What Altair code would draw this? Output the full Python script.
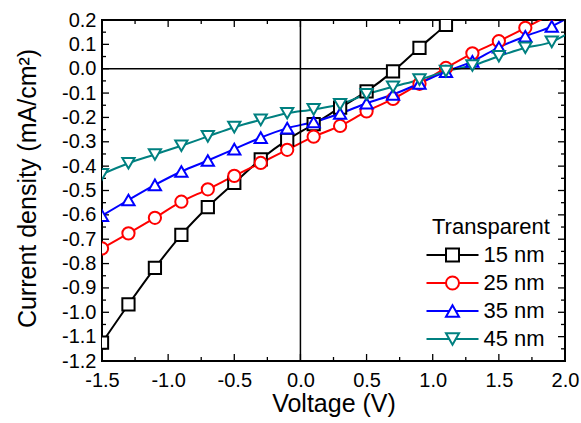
import altair as alt
import pandas as pd

FONT = "Liberation Sans"

# Bias sweep where symbols are drawn (V)
voltage = [-1.5, -1.3, -1.1, -0.9, -0.7, -0.5, -0.3, -0.1, 0.1, 0.3,
           0.5, 0.7, 0.9, 1.1, 1.3, 1.5, 1.7, 1.9]

# Current density (mA/cm^2) for each transparent-electrode thickness
j_15nm = [-1.125, -0.968, -0.818, -0.682, -0.568, -0.469, -0.372, -0.292, -0.228,
          -0.160, -0.093, -0.011, 0.086, 0.180, 0.280]
j_25nm = [-0.738, -0.676, -0.612, -0.546, -0.495, -0.440, -0.387, -0.333, -0.279,
          -0.235, -0.175, -0.124, -0.062, 0.003, 0.063, 0.113, 0.168, 0.225]
j_35nm = [-0.603, -0.539, -0.477, -0.422, -0.377, -0.330, -0.283, -0.244, -0.219,
          -0.184, -0.142, -0.106, -0.060, -0.012, 0.030, 0.088, 0.133, 0.174]
j_45nm = [-0.433, -0.388, -0.352, -0.316, -0.278, -0.240, -0.210, -0.183, -0.167,
          -0.146, -0.105, -0.074, -0.045, -0.010, 0.013, 0.051, 0.086, 0.110]

# last sample of each sweep (no symbol there)
v_end = 2.0
j_end = {"25 nm": 0.255, "35 nm": 0.203, "45 nm": 0.138}

series = ["15 nm", "25 nm", "35 nm", "45 nm"]
colors = ["#000000", "#ff0000", "#0000ff", "#008080"]
shapes = ["square", "circle", "triangle-up", "triangle-down"]

# legend glyphs: a line segment with the series symbol in the middle
legend_paths = [
    "M-4,0H-1M1,0H4M-1,-1H1V1H-1Z",
    "M-4,0H-1M1,0H4M1,0A1,1,0,1,1,-1,0A1,1,0,1,1,1,0Z",
    "M-4,0H-0.5M0.5,0H4M0,-0.866L-1,0.866L1,0.866Z",
    "M-4,0H-0.5M0.5,0H4M0,0.866L-1,-0.866L1,-0.866Z",
]

# axis ticks
x_major = [-1.5, -1.0, -0.5, 0.0, 0.5, 1.0, 1.5, 2.0]
x_minor = [-1.25, -0.75, -0.25, 0.25, 0.75, 1.25, 1.75]
y_major = [0.2, 0.1, 0.0, -0.1, -0.2, -0.3, -0.4, -0.5, -0.6, -0.7, -0.8, -0.9,
           -1.0, -1.1, -1.2]
y_minor = [0.15, 0.05, -0.05, -0.15, -0.25, -0.35, -0.45, -0.55, -0.65, -0.75,
           -0.85, -0.95, -1.05, -1.15]

rows = []
for name, vals in zip(series, [j_15nm, j_25nm, j_35nm, j_45nm]):
    for v, j in zip(voltage, vals):
        rows.append({"V": v, "J": j, "series": name, "sym": True})
    if name in j_end:
        rows.append({"V": v_end, "J": j_end[name], "series": name, "sym": False})
df = pd.DataFrame(rows)

W, H = 463, 341
xscale = alt.Scale(domain=[-1.5, 2.0], nice=False, zero=False)
yscale = alt.Scale(domain=[-1.2, 0.2], nice=False, zero=False)

# plain hyphen for negative tick labels
LABEL_EXPR = "(datum.value < -0.001 ? '-' : '') + format(abs(datum.value), '.1f')"

x_axis = alt.Axis(values=x_major, labelExpr=LABEL_EXPR, ticks=False, tickSize=0,
                  domain=False, grid=False, labelFlush=False, labelOverlap=False,
                  labelFont=FONT, labelFontSize=20, labelColor="black",
                  labelPadding=9, titleFont=FONT, titleFontSize=25,
                  titleFontWeight="normal", titleColor="black",
                  titleBaseline="alphabetic", titleY=50)
y_axis = alt.Axis(values=y_major, labelExpr=LABEL_EXPR, ticks=False, tickSize=0,
                  domain=False, grid=False, labelFlush=False, labelOverlap=False,
                  labelFont=FONT, labelFontSize=20, labelColor="black", labelPadding=6,
                  titleFont=FONT, titleFontSize=25, titleFontWeight="normal",
                  titleColor="black", titleAngle=270, titleAlign="center",
                  titleBaseline="middle", titleX=-75, titleY=168)
X_TITLE = "Voltage (V)"
Y_TITLE = "Current density (mA/cm²)"

legend = alt.Legend(
    title="Transparent", orient="none", legendX=330, legendY=197,
    titleFont=FONT, titleFontSize=22, titleFontWeight="normal", titleColor="black",
    labelFont=FONT, labelFontSize=22, labelColor="black", labelLimit=300,
    symbolSize=169, symbolStrokeWidth=2, symbolOffset=9.5, labelOffset=20,
    symbolFillColor="white", rowPadding=6, titlePadding=5, padding=0,
)

stroke = alt.Stroke("series:N", scale=alt.Scale(domain=series, range=colors),
                    legend=legend)


def xq(field):
    return alt.X(field, scale=xscale, axis=x_axis, title=X_TITLE)


def yq(field):
    return alt.Y(field, scale=yscale, axis=y_axis, title=Y_TITLE)


base = alt.Chart(df)
lines = base.mark_line(strokeWidth=2, interpolate="monotone", clip=True).encode(
    x=xq("V:Q"), y=yq("J:Q"), stroke=stroke, detail="series:N"
)

# symbols, one layer per series so the last one sits on top
point_layers = []
for name, shp in zip(series, shapes):
    point_layers.append(
        base.transform_filter(f"datum.sym && datum.series === '{name}'").mark_point(
            shape=shp, filled=True, fill="white", strokeWidth=2, size=150,
            opacity=1, clip=True
        ).encode(x=xq("V:Q"), y=yq("J:Q"), stroke=stroke)
    )

# empty layer that only carries the legend glyphs
legend_layer = base.transform_filter("false").mark_point(
    filled=True, fill="white", strokeWidth=2, opacity=1
).encode(
    x=xq("V:Q"), y=yq("J:Q"), stroke=stroke,
    shape=alt.Shape("series:N", scale=alt.Scale(domain=series, range=legend_paths),
                    legend=legend),
)

zero = pd.DataFrame({"v": [0.0]})
zero_h = alt.Chart(zero).mark_rule(color="black", strokeWidth=1.5).encode(y=yq("v:Q"))
zero_v = alt.Chart(zero).mark_rule(color="black", strokeWidth=1.5).encode(x=xq("v:Q"))


def x_ticks(vals, length):
    d = alt.Chart(pd.DataFrame({"t": vals}))
    bottom = d.mark_rule(color="black", strokeWidth=1.3).encode(
        x=xq("t:Q"), y=alt.value(H), y2=alt.value(H - length))
    top = d.mark_rule(color="black", strokeWidth=1.3).encode(
        x=xq("t:Q"), y=alt.value(0), y2=alt.value(length))
    return [bottom, top]


def y_ticks(vals, length):
    d = alt.Chart(pd.DataFrame({"t": vals}))
    left = d.mark_rule(color="black", strokeWidth=1.3).encode(
        y=yq("t:Q"), x=alt.value(0), x2=alt.value(length))
    right = d.mark_rule(color="black", strokeWidth=1.3).encode(
        y=yq("t:Q"), x=alt.value(W), x2=alt.value(W - length))
    return [left, right]


tick_layers = (x_ticks(x_major, 7) + x_ticks(x_minor, 4)
               + y_ticks(y_major, 7) + y_ticks(y_minor, 4))

chart = alt.layer(
    lines, zero_h, zero_v, *tick_layers, *point_layers, legend_layer
).properties(
    width=W, height=H,
    autosize=alt.AutoSizeParams(type="none"),
    padding={"left": 102, "top": 20, "right": 16, "bottom": 62},
).configure_view(
    stroke="black", strokeWidth=2
)

chart.save("out.html", embed_options={"renderer": "svg", "actions": False})
